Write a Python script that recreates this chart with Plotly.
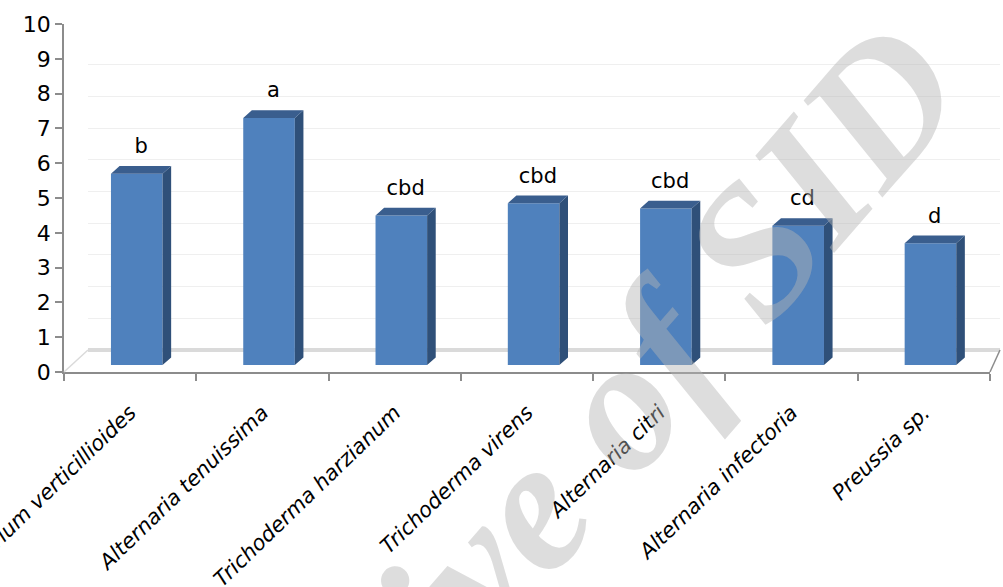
import plotly.graph_objects as go

# ---- data ----
categories = ["Fusarium verticillioides", "Alternaria tenuissima", "Trichoderma harzianum",
              "Trichoderma virens", "Alternaria citri", "Alternaria infectoria", "Preussia sp."]
values = [5.7, 7.3, 4.5, 4.85, 4.7, 4.2, 3.7]
letters = ["b", "a", "cbd", "cbd", "cbd", "cd", "d"]
y_ticks = list(range(0, 11))

# ---- style (3D look) ----
FLOOR = 0.2   # bar base above axis
OFF = 0.05    # front face offset from category centre
W = 0.39      # front face width
DX = 0.065    # depth in x (data units)
DY = 0.22     # depth in y (data units)
LAB = 0.22    # label gap above bar top
FRONT = "#4F81BD"
SIDE = "#2F5079"
TOP = "#3A5E8E"
FONT = "DejaVu Sans"

idx = list(range(len(categories)))

fig = go.Figure()

# back wall grid (subplot x/y, drawn beneath)
fig.add_trace(go.Scatter(x=[0.5], y=[5], mode="markers", marker=dict(opacity=0),
                         hoverinfo="skip", showlegend=False, xaxis="x", yaxis="y"))

# front faces
fig.add_trace(go.Bar(x=[i + OFF for i in idx], y=[v - FLOOR for v in values], base=FLOOR,
                     width=W, marker=dict(color=FRONT, line=dict(width=0)),
                     showlegend=False, xaxis="x2", yaxis="y2"))

# side and top faces
sx, sy = [], []
tx, ty = [], []
for i, v in zip(idx, values):
    xl = i + OFF - W / 2
    xr = i + OFF + W / 2
    sx += [xr, xr + DX, xr + DX, xr, xr, None]
    sy += [FLOOR, FLOOR + DY, v + DY, v, FLOOR, None]
    tx += [xl, xl + DX, xr + DX, xr, xl, None]
    ty += [v, v + DY, v + DY, v, v, None]
fig.add_trace(go.Scatter(x=sx, y=sy, fill="toself", fillcolor=SIDE, mode="lines",
                         line=dict(width=0, color=SIDE), hoverinfo="skip",
                         showlegend=False, xaxis="x2", yaxis="y2"))
fig.add_trace(go.Scatter(x=tx, y=ty, fill="toself", fillcolor=TOP, mode="lines",
                         line=dict(width=0, color=TOP), hoverinfo="skip",
                         showlegend=False, xaxis="x2", yaxis="y2"))

# letter labels
fig.add_trace(go.Scatter(x=[i + OFF + DX / 2 for i in idx], y=[v + DY + LAB for v in values],
                         mode="text", text=letters, textposition="top center",
                         textfont=dict(family=FONT, size=21, color="black"),
                         hoverinfo="skip", showlegend=False, xaxis="x2", yaxis="y2"))

AX = "#8c8c8c"
fig.update_layout(
    template="none",
    width=1003, height=587,
    margin=dict(l=64, r=3, t=24, b=215),
    paper_bgcolor="white", plot_bgcolor="rgba(0,0,0,0)",
    showlegend=False,
    xaxis=dict(domain=[0.0256, 1], range=[0, 1], visible=False, automargin=False),
    yaxis=dict(domain=[0.0632, 0.974], range=[0, 10], dtick=1, showgrid=True,
               gridcolor="#efefef", gridwidth=1, zeroline=True, zerolinecolor="#dadada",
               zerolinewidth=4, showticklabels=False, ticks="", showline=False,
               automargin=False, anchor="x"),
    xaxis2=dict(domain=[0, 0.9893], range=[-0.5, len(categories) - 0.5], anchor="y2",
                tickmode="array", tickvals=idx, ticktext=categories, tickangle=-44,
                ticks="", showgrid=False, zeroline=False, showline=True,
                linecolor=AX, linewidth=2, automargin=False, ticklabeloverflow="allow",
                ticklabelstandoff=18,
                tickfont=dict(family=FONT, size=21, color="black", style="italic"),
                minor=dict(tick0=-0.5, dtick=1, ticks="outside", ticklen=7,
                           tickcolor=AX, tickwidth=1.5, showgrid=False)),
    yaxis2=dict(domain=[0, 1], range=[0, 10], anchor="x2", tickmode="array",
                tickvals=y_ticks, ticks="outside", ticklen=7, tickcolor=AX, tickwidth=1.5,
                showline=True, linecolor=AX, linewidth=1.5, showgrid=False, zeroline=False,
                automargin=False,
                tickfont=dict(family=FONT, size=22, color="black")),
    shapes=[
        dict(type="line", xref="paper", yref="paper", x0=0, y0=0, x1=0.0256, y1=0.0632,
             line=dict(color="#dadada", width=1.5)),
        dict(type="line", xref="paper", yref="paper", x0=0.9893, y0=0, x1=1, y1=0.0632,
             line=dict(color=AX, width=1.5)),
    ],
    annotations=[
        dict(text="Archive of SID", xref="paper", yref="paper", x=0.506, y=-0.362,
             xanchor="center", yanchor="middle", textangle=-49, showarrow=False,
             font=dict(family="Liberation Serif", size=188, weight="bold", style="italic",
                       color="rgba(180,180,180,0.45)")),
    ],
)

fig.write_html("out.html")
